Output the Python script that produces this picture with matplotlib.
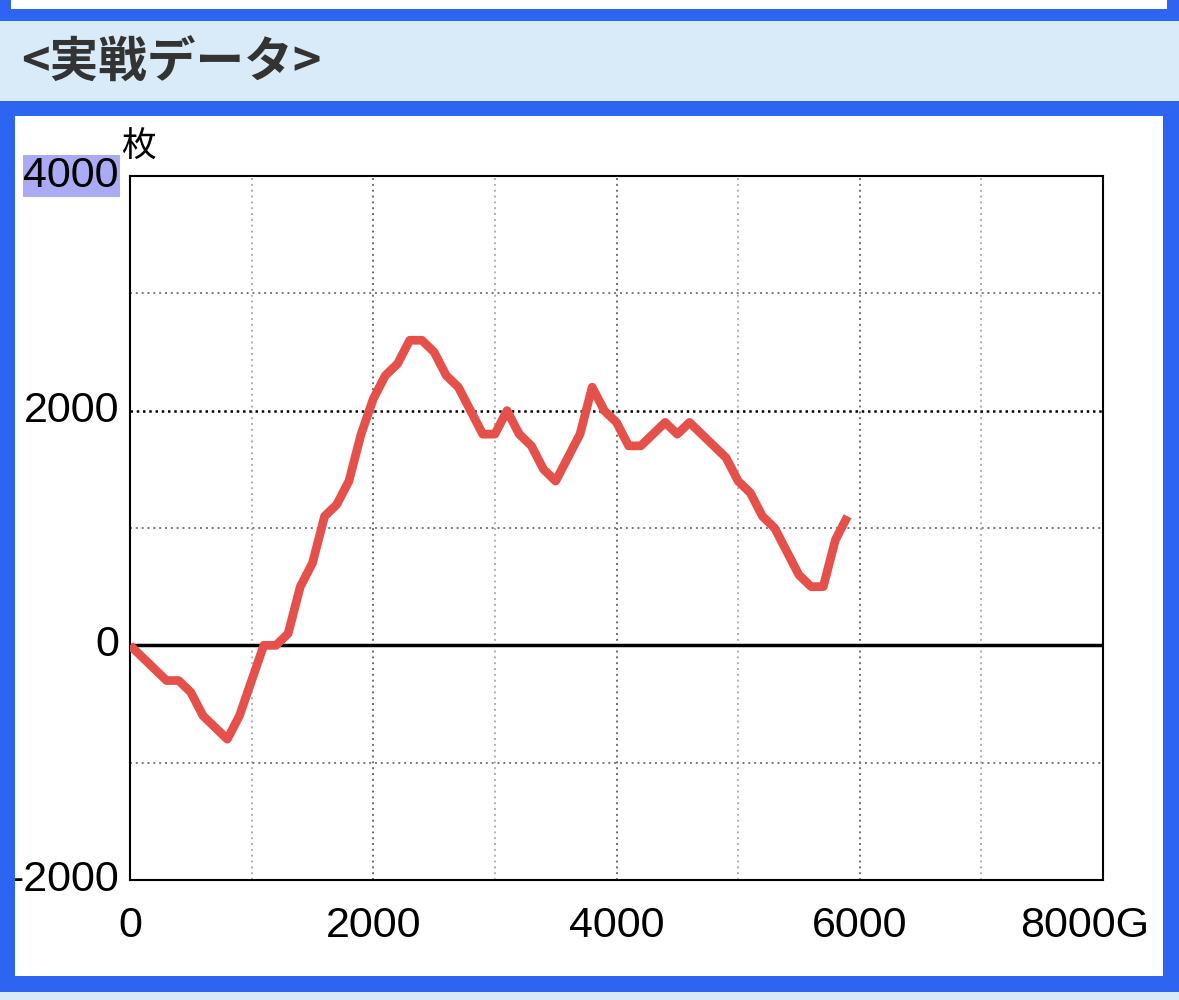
import matplotlib.pyplot as plt
from matplotlib.patches import Rectangle

# 実戦データ (G数ごとの差枚)
games = list(range(0, 6000, 100))
coins = [0, -100, -200, -300, -300, -400, -600, -700, -800, -600,
         -300, 0, 0, 100, 500, 700, 1100, 1200, 1400, 1800,
         2100, 2300, 2400, 2600, 2600, 2500, 2300, 2200, 2000, 1800,
         1800, 2000, 1800, 1700, 1500, 1400, 1600, 1800, 2200, 2000,
         1900, 1700, 1700, 1800, 1900, 1800, 1900, 1800, 1700, 1600,
         1400, 1300, 1100, 1000, 800, 600, 500, 500, 900, 1100]

x_ticks = [0, 2000, 4000, 6000]
x_labels = ['0', '2000', '4000', '6000']
y_ticks = [-2000, 0, 2000, 4000]
y_labels = ['-2000', '0', '2000', '4000']

BLUE = '#2e64f2'
LIGHT = '#d9ebf8'
W, H = 1179, 1000

fig = plt.figure(figsize=(W / 100, H / 100), dpi=100)


def box(x0, y0, x1, y1, color, z=-10):
    # pixel coords, y from the top
    r = Rectangle((x0 / W, 1 - y1 / H), (x1 - x0) / W, (y1 - y0) / H,
                  transform=fig.transFigure, facecolor=color,
                  edgecolor='none', zorder=z)
    fig.add_artist(r)


box(0, 0, W, 21, BLUE)
box(11, 0, 1167, 9, 'white')
box(0, 21, W, 101, LIGHT)
box(0, 101, W, 992, BLUE)
box(15, 116, 1163, 976, 'white')
box(0, 992, W, 1000, LIGHT)
# left border on top so the "-2000" label gets cut like the original
box(0, 116, 15, 976, BLUE, z=10)

fig.text(21 / W, 1 - 63 / H, '<実戦データ>', fontsize=35, fontweight='bold',
         color='#333333', va='center', ha='left', family=['Noto Sans CJK JP'])

ax = fig.add_axes([130 / W, 120 / H, 973 / W, 704 / H])
ax.set_xlim(0, 8000)
ax.set_ylim(-2000, 4000)

# grid
for gx in range(1000, 8000, 1000):
    c = '#6f6f6f' if gx % 2000 == 0 else '#b0b0b0'
    ax.axvline(gx, color=c, lw=1.4, ls=(0, (1, 2)), zorder=1)
for gy in [-1000, 1000, 3000]:
    ax.axhline(gy, color='#7a7a7a', lw=1.4, ls=(0, (1, 2)), zorder=1)
ax.axhline(2000, color='black', lw=1.8, ls=(0, (1, 1.5)), zorder=1)
ax.axhline(0, color='black', lw=2.5, zorder=2)

ax.plot(games, coins, color='#e5514a', lw=6.3, solid_joinstyle='round',
        solid_capstyle='butt', zorder=3)

for s in ax.spines.values():
    s.set_linewidth(1.5)
    s.set_color('black')

ax.set_xticks(x_ticks)
ax.set_xticklabels(x_labels)
ax.set_yticks(y_ticks)
ax.set_yticklabels(y_labels)
ax.tick_params(length=0, labelsize=31)
ax.tick_params(axis='x', pad=19)
ax.tick_params(axis='y', pad=8)
for t in ax.get_xticklabels() + ax.get_yticklabels():
    t.set_family('Liberation Sans')
for t in ax.get_yticklabels():
    t.set_va('center')
ax.get_yticklabels()[-1].set_bbox(dict(boxstyle='square,pad=0.02',
                                       facecolor='#aaaaf5', edgecolor='none'))

ax.annotate('8000G', xy=(8000, 0), xycoords=('data', 'axes fraction'),
            xytext=(-13, -19), textcoords='offset points', ha='center',
            va='top', fontsize=31, family='Liberation Sans')

fig.text(121 / W, 1 - 157 / H, '枚', fontsize=25, ha='left', va='baseline',
         family=['Noto Sans CJK JP'])

fig.savefig('out.png', dpi=100)
